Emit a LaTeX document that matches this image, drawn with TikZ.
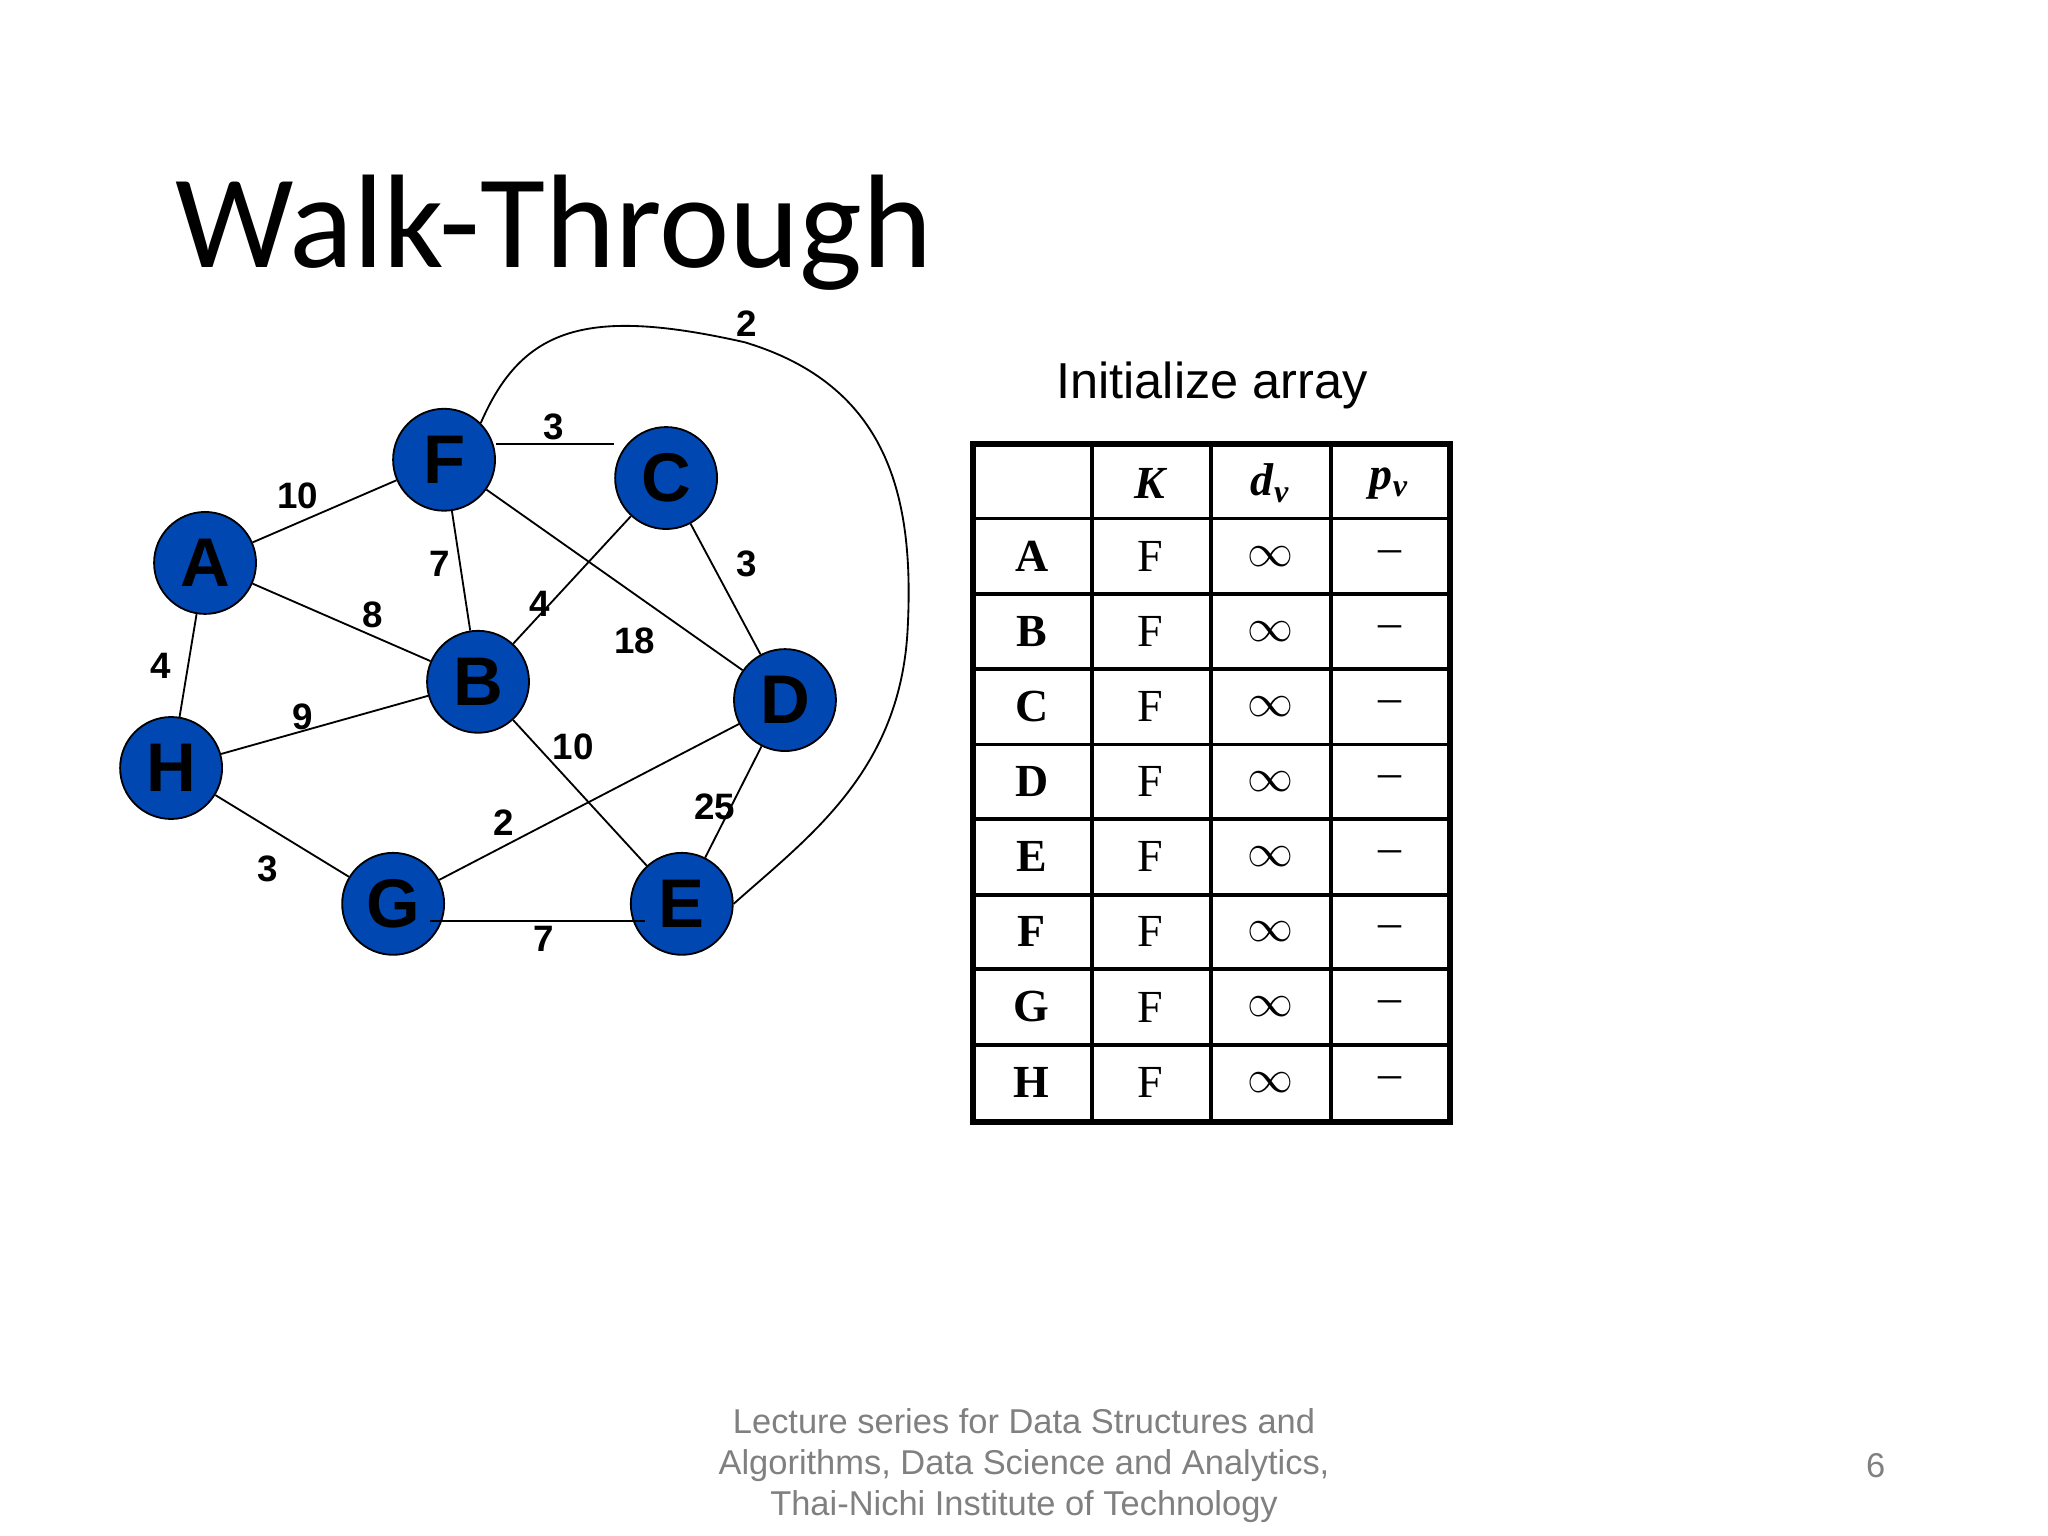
\documentclass[tikz,border=0pt]{standalone}
\usepackage{fontspec}
\setmainfont{Liberation Serif}
\setsansfont{Liberation Sans}
\newfontfamily\titlefont{Carlito}
\begin{document}
\begin{tikzpicture}[x=0.01cm,y=-0.01cm,
  vert/.style={circle,draw=black,fill=blue!60!cyan!70!black,minimum size=0.78cm,inner sep=0pt,font=\sffamily\bfseries\fontsize{15}{15}\selectfont,text=black},
  wt/.style={font=\sffamily\bfseries\fontsize{8}{8}\selectfont},
  edge/.style={line width=0.4pt},
  cell/.style={font=\fontsize{10}{10}\selectfont}]
\useasboundingbox (0,0) rectangle (1568,1176);
\node[anchor=base west,font=\titlefont\fontsize{29}{29}\selectfont] (title) at (122,205) {Walk-Through};
% vertices
\node[vert] (F) at (340,352) {F};
\node[vert] (C) at (510,366) {C};
\node[vert] (A) at (157,431) {A};
\node[vert] (B) at (366,522) {B};
\node[vert] (D) at (601,536) {D};
\node[vert] (H) at (131,588) {H};
\node[vert] (G) at (301,692) {G};
\node[vert] (E) at (522,692) {E};
\draw[edge] (F.east |- 0,340) -- (C.west |- 0,340);
\draw[edge] (A) -- (F);
\draw[edge] (A) -- (B);
\draw[edge] (A) -- (H);
\draw[edge] (F) -- (B);
\draw[edge] (F) -- (D);
\draw[edge] (C) -- (B);
\draw[edge] (C) -- (D);
\draw[edge] (H) -- (B);
\draw[edge] (H) -- (G);
\draw[edge] (G) -- (D);
\draw[edge] (G.south east |- 0,705) -- (E.south west |- 0,705);
\draw[edge] (B) -- (E);
\draw[edge] (D) -- (E);
\draw[edge] (F.north east) .. controls (400,250) and (450,235) .. (570,262)
  .. controls (680,295) and (700,380) .. (695,480)
  .. controls (690,590) and (620,640) .. (E.east);
% weights
\node[wt] (w1) at (572,248) {2};
\node[wt] (w2) at (424,327) {3};
\node[wt] (w3) at (228,380) {10};
\node[wt] (w4) at (337,432) {7};
\node[wt] (w5) at (285,471) {8};
\node[wt] (w6) at (413,462) {4};
\node[wt] (w7) at (486,491) {18};
\node[wt] (w8) at (572,432) {3};
\node[wt] (w9) at (123,510) {4};
\node[wt] (w10) at (232,549) {9};
\node[wt] (w11) at (439,572) {10};
\node[wt] (w12) at (386,630) {2};
\node[wt] (w13) at (547,618) {25};
\node[wt] (w14) at (205,665) {3};
\node[wt] (w15) at (416,719) {7};
% table
\node[font=\sffamily\fontsize{11}{11}\selectfont] (ttl) at (928,295) {Initialize array};
\foreach \y in {397,455,512,570,627,685,742,800}
  \draw[line width=0.8pt] (745,\y) -- (1110,\y);
\foreach \x in {836,927,1019}
  \draw[line width=0.8pt] (\x,340) -- (\x,859);
\draw[line width=1.4pt] (745,340) rectangle (1110,859);
\node[cell] (hK) at (881,370) {\textbf{\textit{K}}};
\node[cell] (hd) at (973,370) {\textbf{\textit{d}\textsubscript{\textit{v}}}};
\node[cell] (hp) at (1064,370) {\textbf{\textit{p}\textsubscript{\textit{v}}}};
\foreach \n [count=\i from 0] in {A,B,C,D,E,F,G,H}{
  \pgfmathsetmacro\yy{426+57.5*\i}
  \node[cell] (r\n) at (790,\yy) {\textbf{\n}};
  \node[cell] (k\n) at (881,\yy) {F};
  \node[cell] (d\n) at (973,\yy) {$\infty$};
  \node[cell] (p\n) at (1064,\yy) {--};
}
% footer
\node[align=center,text=gray,font=\sffamily\fontsize{7.5}{9}\selectfont] (foot) at (784,1122) {Lecture series for Data Structures and\\Algorithms, Data Science and Analytics,\\Thai-Nichi Institute of Technology};
\node[text=gray,font=\sffamily\fontsize{7.5}{9}\selectfont] (pg) at (1436,1122) {6};
\end{tikzpicture}
\end{document}
